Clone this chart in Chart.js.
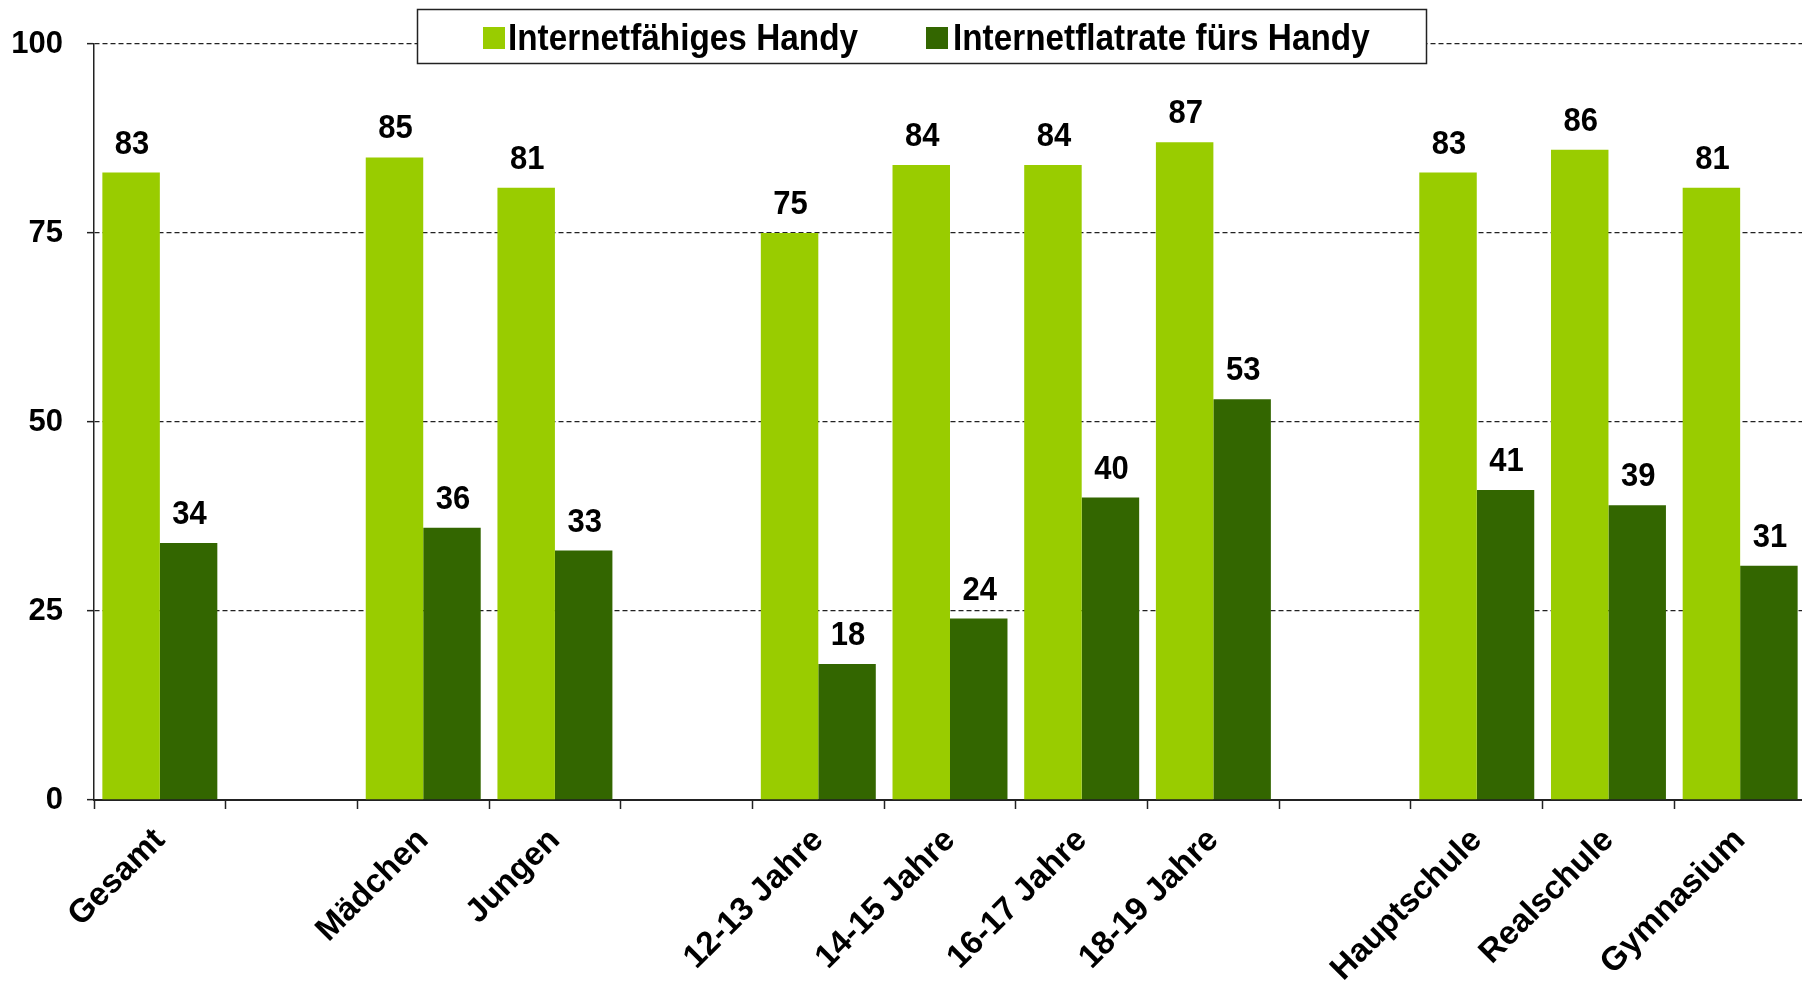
<!DOCTYPE html>
<html><head><meta charset="utf-8">
<script src="https://cdn.jsdelivr.net/npm/chart.js@4"></script>
<style>html,body{margin:0;padding:0;background:#fff;overflow:hidden}#wrap{width:1806px;height:984px}</style>
</head><body><div id="wrap"><canvas id="c" width="1806" height="984"></canvas></div>
<script>
const categories = ["Gesamt","","Mädchen","Jungen","","12-13 Jahre","14-15 Jahre","16-17 Jahre","18-19 Jahre","","Hauptschule","Realschule","Gymnasium"];
const seriesNames = ["Internetfähiges Handy","Internetflatrate fürs Handy"];
const internetfaehig = [83,null,85,81,null,75,84,84,87,null,83,86,81];
const flatrate = [34,null,36,33,null,18,24,40,53,null,41,39,31];
const yTicks = [0,25,50,75,100];
const colors = ["#99CC00","#336600"];
const FONT = '"Liberation Sans", Arial, Helvetica, sans-serif';

const valueLabels = {
  id: 'valueLabels',
  afterDatasetsDraw(chart) {
    const ctx = chart.ctx;
    ctx.save();
    ctx.font = 'bold 31px ' + FONT;
    ctx.fillStyle = '#000';
    ctx.textAlign = 'center';
    ctx.textBaseline = 'alphabetic';
    chart.data.datasets.forEach((ds, i) => {
      const meta = chart.getDatasetMeta(i);
      meta.data.forEach((el, j) => {
        const v = ds.data[j];
        if (v === null || v === undefined) return;
        ctx.save();
        ctx.translate(el.x + 1, el.y - 19);
        ctx.scale(1, 1.1);
        ctx.fillText(String(v), 0, 0);
        ctx.restore();
      });
    });
    ctx.restore();
  }
};

const boxLegend = {
  id: 'boxLegend',
  afterDraw(chart) {
    const ctx = chart.ctx;
    ctx.save();
    const x0 = 417, y0 = 9, x1 = 1426, y1 = 63;
    ctx.fillStyle = '#fff';
    ctx.fillRect(x0, y0, x1 - x0, y1 - y0);
    ctx.strokeStyle = '#222';
    ctx.lineWidth = 1.5;
    ctx.strokeRect(x0 + 0.5, y0 + 0.5, x1 - x0, y1 - y0);
    const items = [{sq: 483, tx: 508}, {sq: 926, tx: 953}];
    ctx.font = 'bold 33px ' + FONT;
    ctx.textBaseline = 'middle';
    ctx.textAlign = 'left';
    chart.data.datasets.forEach((ds, i) => {
      ctx.fillStyle = ds.backgroundColor;
      ctx.fillRect(items[i].sq, 27, 22, 22);
      ctx.fillStyle = '#000';
      ctx.save();
      ctx.translate(items[i].tx, 40);
      ctx.scale(1.01, 1.1);
      ctx.fillText(ds.label, 0, 0);
      ctx.restore();
    });
    ctx.restore();
  }
};

new Chart(document.getElementById('c'), {
  type: 'bar',
  data: {
    labels: categories,
    datasets: [
      {label: seriesNames[0], data: internetfaehig, backgroundColor: colors[0], borderWidth: 0},
      {label: seriesNames[1], data: flatrate, backgroundColor: colors[1], borderWidth: 0}
    ]
  },
  options: {
    responsive: false,
    animation: false,
    devicePixelRatio: 1,
    datasets: {bar: {categoryPercentage: 0.873, barPercentage: 1.0}},
    layout: {padding: {top: 44, left: 0, right: 0, bottom: 0}},
    plugins: {legend: {display: false}, tooltip: {enabled: false}},
    scales: {
      x: {
        offset: true,
        afterFit(s) { s.height = 184; },
        grid: {display: true, offset: true, drawOnChartArea: false, drawTicks: true, tickLength: 9, tickColor: '#222', tickWidth: 1.5},
        border: {display: true, color: '#222', width: 2},
        ticks: {autoSkip: false, maxRotation: 45, minRotation: 45, padding: 12, color: '#000', font: {family: FONT, size: 33, weight: 'bold'}}
      },
      y: {
        min: 0, max: 100,
        afterFit(s) { s.width = 94; },
        afterBuildTicks(s) { s.ticks = yTicks.map(v => ({value: v})); },
        grid: {color: '#222', lineWidth: 1.3, tickLength: 7, tickColor: '#222', tickWidth: 1.5, tickBorderDash: []},
        border: {display: true, color: '#222', width: 1.5, dash: [5, 3]},
        ticks: {padding: 24, color: '#000', font: {family: FONT, size: 31, weight: 'bold'}}
      }
    }
  },
  plugins: [valueLabels, boxLegend]
});
</script>
</body></html>
